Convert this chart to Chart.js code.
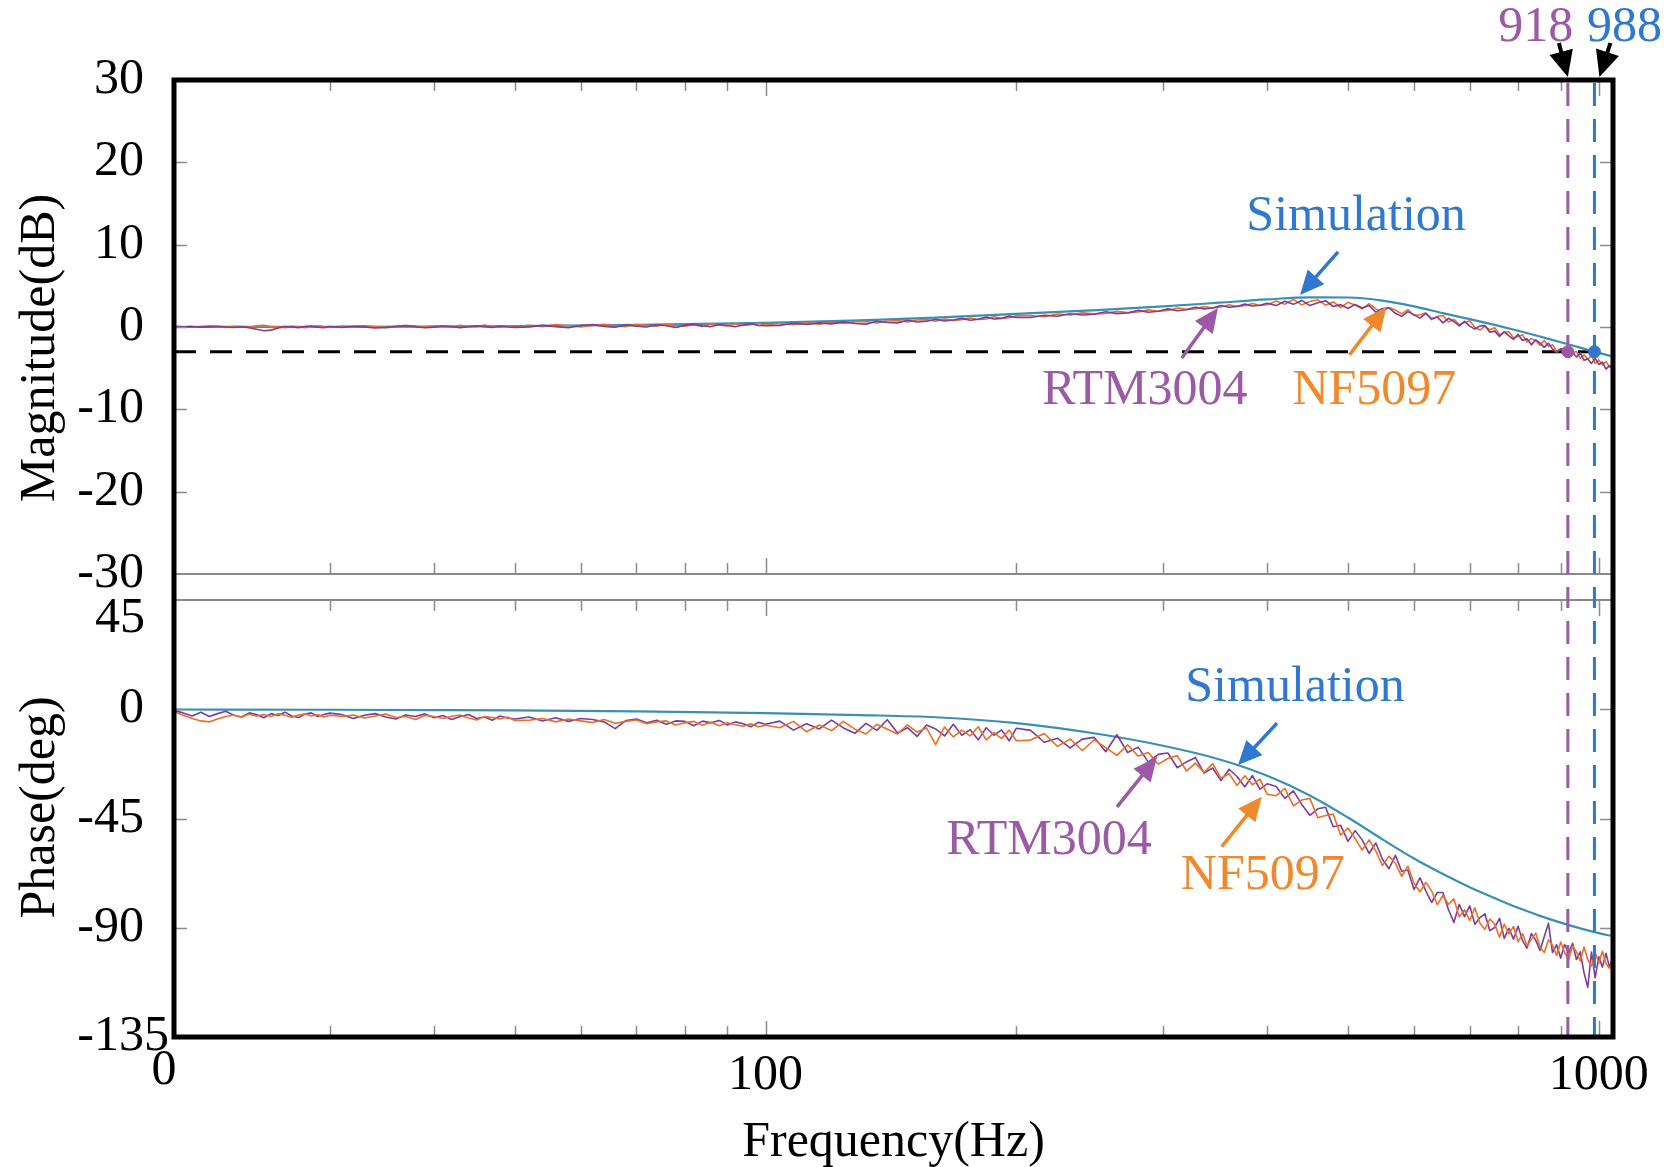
<!DOCTYPE html>
<html lang="en">
<head>
<meta charset="utf-8">
<title>Closed-loop frequency response: RTM3004 / NF5097 / Simulation</title>
<script src="https://cdn.jsdelivr.net/npm/chart.js@4.4.1/dist/chart.umd.min.js"></script>
<style>
  html, body { margin: 0; padding: 0; background: #ffffff; }
  #figure { position: relative; width: 1680px; height: 1167px; background: #ffffff; overflow: hidden; }
  .panel { position: absolute; left: 0; width: 1680px; }
  #magPanel { top: 0; height: 590px; }
  #phasePanel { top: 590px; height: 577px; }
</style>
</head>
<body>
<div id="figure">
  <div class="panel" id="magPanel"><canvas id="magChart"></canvas></div>
  <div class="panel" id="phasePanel"><canvas id="phaseChart"></canvas></div>
</div>
<script>
// ---------------- measured sweep: shared frequency grid (Hz) ----------------
const freqHz = [
  19.5, 20, 20.5, 21, 21.5, 22, 22.5, 23, 23.5, 24, 24.5, 25, 25.5, 26, 26.5, 27, 27.5, 28, 28.5, 29, 29.5, 30,
  31, 32, 33, 34, 35, 36, 37, 38, 39, 40, 41, 42, 43, 44, 45, 46, 47, 48, 49, 50,
  52, 54, 56, 58, 60, 62, 64, 66, 68, 70, 72, 74, 76, 78, 80, 82, 84, 86, 88, 90, 92, 94, 96, 98, 100,
  104, 108, 112, 116, 120, 124, 128, 132, 136, 140, 144, 148, 152, 156, 160, 164, 168, 172, 176, 180, 184, 188, 192, 196, 200,
  208, 216, 224, 232, 240, 248, 256, 264, 272, 280, 288, 296, 304, 312, 320, 328, 336, 344, 352, 360, 368, 376, 384, 392, 400,
  410, 420, 430, 440, 450, 460, 470, 480, 490, 500, 510, 520, 530, 540, 550, 560, 570, 580, 590, 600,
  610, 620, 630, 640, 650, 660, 670, 680, 690, 700, 710, 720, 730, 740, 750, 760, 770, 780, 790, 800,
  810, 820, 830, 840, 850, 860, 870, 880, 890, 900, 910, 920, 930, 940, 950, 960, 970, 980, 990, 1000,
  1010, 1020, 1030, 1040
];

// RTM3004 magnitude (dB)
const rtmMagDb = [
  0.05, 0.02, 0.07, -0.02, 0.04, 0.1, 0.0, -0.06, 0.03, -0.1, -0.28, -0.45, -0.38, -0.12, 0.05, 0.0, -0.08, 0.04, 0.12, -0.02, -0.1, 0.06,
  -0.05, 0.1, 0.02, -0.12, -0.06, 0.08, 0.15, 0.04, -0.1, -0.02, 0.12, 0.06, -0.08, 0.03, 0.16, 0.05, -0.07, 0.1, 0.0, -0.04,
  0.02, 0.2, 0.05, -0.1, 0.18, 0.3, 0.08, -0.02, 0.25, 0.1, 0.0, 0.28, 0.15, -0.05, 0.2, 0.35, 0.12, 0.05, 0.3, 0.18, 0.02, 0.25, 0.4, 0.2, 0.15,
  0.2, 0.45, 0.3, 0.5, 0.38, 0.6, 0.42, 0.35, 0.7, 0.55, 0.5, 0.82, 0.6, 0.7, 0.95, 0.72, 0.85, 1.05, 0.82, 0.95, 1.2, 0.98, 1.05, 1.32, 1.15,
  1.15, 1.42, 1.3, 1.6, 1.45, 1.55, 1.85, 1.62, 1.7, 2.02, 1.8, 1.92, 2.2, 1.98, 2.1, 2.4, 2.2, 2.3, 2.62, 2.4, 2.5, 2.78, 2.55, 2.65, 2.88,
  2.6, 3.12, 2.75, 3.23, 2.6, 2.95, 3.2, 2.49, 2.72, 2.25, 2.75, 2.3, 2.6, 1.8, 2.25, 2.33, 1.66, 1.29, 1.87, 1.5,
  1.08, 1.66, 0.99, 1.22, 0.5, 1.06, 0.67, 0.13, 0.69, 0.1, -0.26, 0.13, 0.17, -0.64, -0.5, -1.14, -0.58, -1.07, -1.51, -0.9,
  -1.64, -1.43, -2.17, -1.56, -1.95, -2.48, -1.96, -2.69, -3.12, -2.65, -2.94, -3.53, -3.02, -3.66, -3.15, -4.04, -3.88, -4.42, -3.81, -4.55,
  -4.28, -5.11, -4.69, -5.3
];

// NF5097 magnitude (dB)
const nfMagDb = [
  0.08, 0.04, -0.03, 0.06, 0.12, 0.02, -0.05, 0.1, 0.05, -0.04, 0.14, 0.2, 0.06, -0.02, -0.08, 0.08, 0.03, -0.1, 0.02, 0.16, 0.05, -0.06,
  0.12, 0.05, 0.18, 0.03, -0.08, 0.02, 0.22, 0.1, 0.0, 0.14, 0.06, -0.06, 0.2, 0.08, 0.02, 0.25, 0.1, -0.02, 0.15, 0.04,
  0.22, 0.05, 0.3, 0.15, 0.02, 0.2, 0.32, 0.12, 0.05, 0.3, 0.22, 0.08, 0.35, 0.18, 0.1, 0.26, 0.05, 0.38, 0.22, 0.12, 0.4, 0.18, 0.28, 0.45, 0.25,
  0.42, 0.28, 0.5, 0.35, 0.58, 0.42, 0.62, 0.66, 0.48, 0.72, 0.78, 0.6, 0.85, 0.9, 0.7, 0.98, 0.8, 0.88, 1.1, 0.92, 0.98, 1.25, 1.05, 1.12, 1.35,
  1.4, 1.25, 1.58, 1.45, 1.72, 1.6, 1.65, 1.9, 1.75, 1.82, 2.08, 1.92, 2.0, 2.3, 2.15, 2.2, 2.5, 2.3, 2.42, 2.7, 2.5, 2.58, 2.85, 2.62, 2.7,
  3.15, 2.77, 3.35, 2.68, 3.1, 3.3, 2.65, 3.04, 2.37, 3.0, 2.65, 2.2, 2.85, 2.2, 1.85, 2.38, 2.06, 1.59, 2.12, 1.4,
  1.48, 1.71, 0.89, 1.27, 1.4, 0.61, 0.92, 0.28, 0.54, 0.75, -0.06, -0.37, 0.12, -0.34, -0.1, -0.94, -0.63, -0.57, -1.31, -1.15,
  -0.94, -1.83, -1.42, -1.66, -2.2, -1.63, -2.36, -2.14, -2.97, -2.65, -2.59, -3.28, -3.17, -2.96, -3.8, -3.39, -3.88, -3.52, -4.41, -4.0,
  -4.58, -4.21, -4.84, -4.65
];

// RTM3004 phase (deg)
const rtmPhaseDeg = [
  -0.5, -1.5, -2.8, -1.2, -3.0, -1.8, -0.8, -2.5, -3.2, -1.5, -2.2, -3.5, -1.8, -2.6, -1.2, -2.8, -3.4, -2.0, -1.5, -3.0, -2.2, -1.6,
  -2.2, -3.8, -2.5, -1.8, -3.2, -4.0, -2.4, -3.0, -1.9, -3.5, -2.6, -4.2, -3.0, -2.2, -3.8, -3.2, -4.5, -2.8, -3.6, -4.0,
  -3.2, -4.8, -3.5, -5.0, -3.8, -4.2, -5.2, -8.0, -4.6, -4.0, -5.6, -4.5, -6.2, -4.8, -5.0, -6.8, -4.9, -5.6, -4.6, -6.5, -5.2, -6.0, -7.2, -5.4, -6.2,
  -4.9, -8.6, -6.0, -8.1, -4.5, -7.7, -9.9, -5.8, -8.7, -4.3, -9.8, -7.6, -11.2, -6.5, -8.1, -11.0, -6.2, -10.7, -8.4, -12.6, -7.6, -10.7, -8.5, -13.0, -7.8,
  -8.7, -13.6, -11.9, -15.9, -12.3, -11.6, -17.5, -10.5, -17.8, -15.6, -21.8, -18.6, -18.0, -24.1, -21.7, -19.9, -26.3, -24.2, -29.4, -24.7, -27.7, -32.0, -27.3, -32.9, -30.7,
  -31.8, -36.7, -33.6, -39.2, -43.7, -41.0, -40.4, -48.4, -47.8, -54.4, -50.0, -53.8, -59.4, -55.1, -61.8, -65.7, -60.2, -66.7, -66.2, -74.3,
  -69.4, -74.8, -79.6, -75.5, -75.5, -82.5, -87.8, -80.3, -85.4, -81.0, -88.6, -85.8, -84.3, -91.2, -89.9, -86.1, -94.4, -90.2, -94.7, -89.4,
  -95.3, -98.4, -92.4, -95.1, -99.4, -93.7, -88.2, -100.2, -97.0, -102.5, -96.9, -100.5, -96.4, -103.1, -99.9, -108.6, -114.5, -100.0, -110.6, -101.9,
  -106.2, -100.5, -106.3, -102.1
];

// NF5097 phase (deg)
const nfPhaseDeg = [
  -1.0, -2.5, -3.8, -4.8, -5.2, -4.0, -3.0, -2.4, -3.3, -2.0, -2.8, -2.2, -3.0, -1.8, -2.5, -3.3, -2.4, -1.9, -2.8, -2.2, -3.2, -2.5,
  -3.0, -2.4, -3.6, -2.8, -2.0, -3.4, -3.0, -4.2, -2.6, -3.0, -3.8, -2.9, -2.4, -3.6, -4.4, -3.0, -3.4, -4.0, -3.2, -4.6,
  -4.5, -3.8, -5.2, -4.0, -4.8, -5.5, -4.2, -5.8, -5.0, -4.4, -6.0, -5.2, -4.8, -6.5, -5.6, -5.0, -6.6, -5.4, -6.8, -5.6, -6.4, -7.0, -6.0, -7.2, -6.6,
  -7.6, -5.0, -9.3, -6.5, -8.8, -5.0, -8.2, -10.2, -6.2, -8.2, -10.2, -6.4, -9.4, -7.7, -14.6, -7.3, -11.4, -8.6, -11.0, -7.2, -12.6, -9.6, -12.1, -8.6, -13.0,
  -12.7, -10.0, -15.3, -12.3, -17.0, -12.6, -15.8, -19.0, -14.6, -19.3, -17.8, -22.6, -20.3, -19.1, -25.5, -22.2, -26.1, -22.4, -28.4, -26.6, -31.4, -27.4, -31.1, -28.8, -35.0,
  -35.6, -32.6, -39.8, -37.4, -36.7, -44.7, -43.8, -43.2, -51.9, -48.9, -53.3, -58.0, -53.8, -58.4, -64.4, -60.5, -63.4, -68.8, -64.6, -71.7,
  -75.2, -71.3, -74.8, -80.5, -76.7, -80.4, -78.1, -85.5, -82.6, -87.0, -81.8, -88.1, -90.7, -86.4, -88.5, -93.9, -88.5, -92.5, -89.5, -95.8,
  -92.4, -97.4, -94.8, -92.2, -98.0, -100.2, -95.0, -97.1, -101.4, -95.9, -100.3, -103.1, -97.5, -99.9, -103.7, -97.9, -103.1, -105.8, -100.1, -104.6,
  -99.7, -104.8, -106.7, -102.4
];

// ---------------- simulated response ----------------
const simFreqHz   = [19.5, 30, 40, 50, 70, 100, 130, 160, 200, 250, 300, 350, 400, 450, 500, 550, 600, 650, 700, 750, 800, 850, 900, 950, 1000, 1040];
const simMagDb    = [0.0, 0.02, 0.05, 0.1, 0.25, 0.5, 0.8, 1.15, 1.6, 2.05, 2.5, 2.95, 3.35, 3.6, 3.58, 3.2, 2.5, 1.68, 0.95, 0.25, -0.45, -1.15, -1.85, -2.5, -3.15, -3.6];
const simPhaseDeg = [-0.1, -0.2, -0.35, -0.5, -0.9, -1.6, -2.4, -3.3, -5.7, -10.1, -15.05, -20.6, -27.4, -35.5, -44.6, -53.6, -61.5, -67.9, -73.3, -77.8, -81.8, -85.1, -87.9, -90.25, -92.2, -93.5];

// ---------------- -3 dB bandwidth markers ----------------
const cutoffLevelDb = -3;
const cutoffRtmHz = 918;   // measured bandwidth
const cutoffSimHz = 988;   // simulated bandwidth

// ---------------- axes ----------------
const X_MIN = 19.5, X_MAX = 1040;
const freqTickValues = [X_MIN, 100, 1000];
const freqTickLabels = ['0', '100', '1000'];
const minorFreqTicks = [30, 40, 50, 60, 70, 80, 90, 100, 200, 300, 400, 500, 600, 700, 800, 900, 1000];
const magTicks = [30, 20, 10, 0, -10, -20, -30];
const magInnerMarks = [20, 10, 0, -10, -20];
const phaseTicks = [45, 0, -45, -90, -135];
const phaseInnerMarks = [0, -45, -90];
const axisTitles = { freq: 'Frequency(Hz)', mag: 'Magnitude(dB)', phase: 'Phase(deg)' };

// ---------------- styling ----------------
const FONT = "'Liberation Serif', 'Times New Roman', Times, serif";
const BLACK = '#000000';
const TICK_GREY = '#8c8c8c';
const PURPLE_TEXT = '#9b59a6';
const ORANGE_TEXT = '#f0892c';
const BLUE_TEXT = '#2f78cf';
const RTM_LINE = '#7d3c97';
const NF_LINE = '#ec6f26';
const SIM_LINE = '#3a90b3';
const CUT_DASH = [23, 13];

Chart.defaults.font.family = FONT;
Chart.defaults.color = BLACK;

const pts = (xs, ys) => xs.map((x, i) => ({ x, y: ys[i] }));

// callouts: arrow tip in data units, tail and caption as pixel offsets from the tip
const magCallouts = [
  { text: 'Simulation', color: BLUE_TEXT,   at: [438, 3.9],  tail: [38, -43], label: [56, -78] },
  { text: 'RTM3004',    color: PURPLE_TEXT, at: [349, 2.3],  tail: [-36, 50], label: [-73, 83] },
  { text: 'NF5097',     color: ORANGE_TEXT, at: [556, 2.45], tail: [-37, 48], label: [-12, 84] }
];
const phaseCallouts = [
  { text: 'Simulation', color: BLUE_TEXT,   at: [369, -23],   tail: [39, -42], label: [57, -77] },
  { text: 'RTM3004',    color: PURPLE_TEXT, at: [295, -19.6], tail: [-40, 50], label: [-108, 84] },
  { text: 'NF5097',     color: ORANGE_TEXT, at: [394, -36],   tail: [-40, 50], label: [1, 79] }
];

// ---------------- drawing helpers ----------------
function arrow(ctx, x0, y0, x1, y1, color, head, half, width) {
  const ang = Math.atan2(y1 - y0, x1 - x0);
  const bx = x1 - head * Math.cos(ang), by = y1 - head * Math.sin(ang);
  ctx.save();
  ctx.strokeStyle = color; ctx.fillStyle = color; ctx.lineWidth = width; ctx.lineCap = 'butt';
  ctx.beginPath(); ctx.moveTo(x0, y0); ctx.lineTo(bx + Math.cos(ang), by + Math.sin(ang)); ctx.stroke();
  ctx.beginPath();
  ctx.moveTo(x1, y1);
  ctx.lineTo(bx + half * Math.sin(ang), by - half * Math.cos(ang));
  ctx.lineTo(bx - half * Math.sin(ang), by + half * Math.cos(ang));
  ctx.closePath(); ctx.fill();
  ctx.restore();
}

function drawFreqTicks(ctx, xs, yEdge, dir) {
  ctx.save();
  ctx.strokeStyle = TICK_GREY; ctx.lineWidth = 1.5;
  ctx.beginPath();
  minorFreqTicks.forEach(f => {
    const px = Math.round(xs.getPixelForValue(f)) + 0.5;
    const len = (f === 100 || f === 1000) ? 16 : 11;
    ctx.moveTo(px, yEdge); ctx.lineTo(px, yEdge + dir * len);
  });
  ctx.stroke();
  ctx.restore();
}

function drawValueTicks(ctx, ys, values, left, right) {
  ctx.save();
  ctx.strokeStyle = TICK_GREY; ctx.lineWidth = 1.5;
  ctx.beginPath();
  values.forEach(v => {
    const py = Math.round(ys.getPixelForValue(v)) + 0.5;
    ctx.moveTo(left, py); ctx.lineTo(left + 13, py);
    ctx.moveTo(right - 13, py); ctx.lineTo(right, py);
  });
  ctx.stroke();
  ctx.restore();
}

function drawCutoffs(ctx, xs, yFrom, yTo, dashOffset) {
  [[cutoffRtmHz, PURPLE_TEXT], [cutoffSimHz, BLUE_TEXT]].forEach(([f, c]) => {
    const px = xs.getPixelForValue(f);
    ctx.save();
    ctx.strokeStyle = c; ctx.lineWidth = 3;
    ctx.setLineDash(CUT_DASH); ctx.lineDashOffset = dashOffset;
    ctx.beginPath(); ctx.moveTo(px, yFrom); ctx.lineTo(px, yTo); ctx.stroke();
    ctx.restore();
  });
}

function drawCallouts(ctx, chart, notes) {
  const { x, y } = chart.scales;
  notes.forEach(n => {
    const tx = x.getPixelForValue(n.at[0]), ty = y.getPixelForValue(n.at[1]);
    arrow(ctx, tx + n.tail[0], ty + n.tail[1], tx, ty, n.color, 24, 11, 3.5);
    ctx.save();
    ctx.fillStyle = n.color; ctx.font = `50px ${FONT}`;
    ctx.textAlign = 'center'; ctx.textBaseline = 'middle';
    ctx.fillText(n.text, tx + n.label[0], ty + n.label[1]);
    ctx.restore();
  });
}

function drawFrame(ctx, path) {
  ctx.save();
  ctx.strokeStyle = BLACK; ctx.lineWidth = 5; ctx.lineJoin = 'miter'; ctx.lineCap = 'butt';
  ctx.beginPath();
  path.forEach(([px, py], i) => (i ? ctx.lineTo(px, py) : ctx.moveTo(px, py)));
  ctx.stroke();
  ctx.restore();
}

function dividerLine(ctx, a, yy) {
  ctx.save();
  ctx.strokeStyle = '#8a8a8a'; ctx.lineWidth = 2;
  ctx.beginPath(); ctx.moveTo(a.left, yy); ctx.lineTo(a.right, yy); ctx.stroke();
  ctx.restore();
}

// rotated value-axis title, centred at (cx, cy)
function sideTitle(ctx, text, cx, cy) {
  ctx.save();
  ctx.translate(cx, cy); ctx.rotate(-Math.PI / 2);
  ctx.fillStyle = BLACK; ctx.font = `50px ${FONT}`;
  ctx.textAlign = 'center'; ctx.textBaseline = 'middle';
  ctx.fillText(text, 0, 0);
  ctx.restore();
}

// ---------------- panel decorations ----------------
const magDecor = {
  id: 'magDecor',
  afterDraw(chart) {
    const { ctx, chartArea: a, scales: { x, y } } = chart;
    const H = chart.height;
    drawFreqTicks(ctx, x, a.top, 1);
    drawFreqTicks(ctx, x, a.bottom, -1);
    drawValueTicks(ctx, y, magInnerMarks, a.left, a.right);
    dividerLine(ctx, a, a.bottom);
    drawCutoffs(ctx, x, a.top + 3, H, 0);
    drawCallouts(ctx, chart, magCallouts);
    drawFrame(ctx, [[a.left, H + 5], [a.left, a.top], [a.right, a.top], [a.right, H + 5]]);
    sideTitle(ctx, axisTitles.mag, 41, (a.top + a.bottom) / 2 + 21);

    // bandwidth captions above the frame
    const xr = x.getPixelForValue(cutoffRtmHz), xs = x.getPixelForValue(cutoffSimHz);
    ctx.save();
    ctx.font = `50px ${FONT}`; ctx.textAlign = 'center'; ctx.textBaseline = 'middle';
    ctx.fillStyle = PURPLE_TEXT; ctx.fillText(String(cutoffRtmHz), xr - 32, 28);
    ctx.fillStyle = BLUE_TEXT; ctx.fillText(String(cutoffSimHz), xs + 30, 28);
    ctx.restore();
    arrow(ctx, xr - 9, 43, xr, a.top - 3, BLACK, 26, 12, 4);
    arrow(ctx, xs + 16, 43, xs + 5, a.top - 3, BLACK, 26, 12, 4);
  }
};

const phaseDecor = {
  id: 'phaseDecor',
  afterDraw(chart) {
    const { ctx, chartArea: a, scales: { x, y } } = chart;
    drawFreqTicks(ctx, x, a.top, 1);
    drawFreqTicks(ctx, x, a.bottom, -1);
    drawValueTicks(ctx, y, phaseInnerMarks, a.left, a.right);
    dividerLine(ctx, a, a.top);
    drawCutoffs(ctx, x, -2, a.bottom, 3);
    drawCallouts(ctx, chart, phaseCallouts);
    drawFrame(ctx, [[a.left, -5], [a.left, a.bottom], [a.right, a.bottom], [a.right, -5]]);
    sideTitle(ctx, axisTitles.phase, 41, (a.top + a.bottom) / 2 - 11);

    // end labels of the value axis, nudged clear of the magnitude labels,
    // and the first frequency label, set just left of the frame corner
    ctx.save();
    ctx.fillStyle = BLACK; ctx.font = `50px ${FONT}`;
    ctx.textAlign = 'right'; ctx.textBaseline = 'middle';
    ctx.fillText(String(phaseTicks[0]), a.left - 29, y.getPixelForValue(phaseTicks[0]) + 19);
    ctx.fillText(String(phaseTicks[phaseTicks.length - 1]), a.left - 5, y.getPixelForValue(phaseTicks[phaseTicks.length - 1]));
    ctx.textAlign = 'center';
    ctx.fillText(freqTickLabels[0], a.left - 10, a.bottom + 34);
    ctx.restore();
  }
};

// ---------------- shared axis pieces ----------------
function freqScale(visible) {
  return {
    type: 'logarithmic', min: X_MIN, max: X_MAX, position: 'bottom', display: visible,
    afterBuildTicks: s => { s.ticks = freqTickValues.map(v => ({ value: v })); },
    afterFit: s => { s.height = visible ? 130 : 0; s.paddingLeft = 0; s.paddingRight = 0; },
    grid: { display: false }, border: { display: false },
    ticks: {
      autoSkip: false, maxRotation: 0, minRotation: 0, padding: 1, color: BLACK,
      font: { family: FONT, size: 50 },
      callback: (v, i) => (i === 0 ? '' : freqTickLabels[i])
    },
    title: { display: true, text: axisTitles.freq, color: BLACK,
             font: { family: FONT, size: 50, lineHeight: 0.98 }, padding: { top: 0, bottom: 0 } }
  };
}

function valueScale(min, max, tickValues, hidden) {
  return {
    type: 'linear', min, max, position: 'left',
    afterBuildTicks: s => { s.ticks = tickValues.map(v => ({ value: v })); },
    afterFit: s => { s.width = 174; s.paddingTop = 0; s.paddingBottom = 0; },
    grid: { display: false }, border: { display: false },
    ticks: {
      autoSkip: false, padding: 22, color: BLACK, font: { family: FONT, size: 50 },
      callback: v => (hidden.includes(v) ? '' : String(v))
    },
    title: { display: false }
  };
}

const baseOptions = {
  responsive: true, maintainAspectRatio: false, animation: false, devicePixelRatio: 1, events: [],
  plugins: { legend: { display: false }, tooltip: { enabled: false } },
  elements: { point: { radius: 0 }, line: { borderJoinStyle: 'round', tension: 0 } }
};

// ---------------- magnitude panel ----------------
new Chart(document.getElementById('magChart'), {
  type: 'line',
  data: {
    datasets: [
      { label: 'bandwidth points',
        data: [{ x: cutoffRtmHz, y: cutoffLevelDb }, { x: cutoffSimHz, y: cutoffLevelDb }],
        showLine: false, pointRadius: 6,
        pointBackgroundColor: [PURPLE_TEXT, BLUE_TEXT], pointBorderColor: [PURPLE_TEXT, BLUE_TEXT], pointBorderWidth: 1,
        order: 0 },
      { label: 'RTM3004', data: pts(freqHz, rtmMagDb), borderColor: RTM_LINE, borderWidth: 1.6, order: 1 },
      { label: 'NF5097', data: pts(freqHz, nfMagDb), borderColor: NF_LINE, borderWidth: 1.6, order: 2 },
      { label: 'Simulation', data: pts(simFreqHz, simMagDb), borderColor: SIM_LINE, borderWidth: 2.2,
        cubicInterpolationMode: 'monotone', order: 3 },
      { label: '-3 dB', data: [{ x: X_MIN, y: cutoffLevelDb }, { x: X_MAX, y: cutoffLevelDb }],
        borderColor: BLACK, borderWidth: 3, borderDash: [22, 14], order: 4 }
    ]
  },
  options: {
    ...baseOptions,
    layout: { padding: { left: 0, right: 67, top: 80, bottom: 16 } },
    scales: {
      x: freqScale(false),
      y: valueScale(-30, 30, magTicks, [])
    }
  },
  plugins: [magDecor]
});

// ---------------- phase panel ----------------
new Chart(document.getElementById('phaseChart'), {
  type: 'line',
  data: {
    datasets: [
      { label: 'NF5097', data: pts(freqHz, nfPhaseDeg), borderColor: NF_LINE, borderWidth: 1.6, order: 1 },
      { label: 'RTM3004', data: pts(freqHz, rtmPhaseDeg), borderColor: RTM_LINE, borderWidth: 1.6, order: 2 },
      { label: 'Simulation', data: pts(simFreqHz, simPhaseDeg), borderColor: SIM_LINE, borderWidth: 2.2,
        cubicInterpolationMode: 'monotone', order: 3 }
    ]
  },
  options: {
    ...baseOptions,
    layout: { padding: { left: 0, right: 67, top: 10, bottom: 0 } },
    scales: {
      x: freqScale(true),
      y: valueScale(-135, 45, phaseTicks, [45, -135])
    }
  },
  plugins: [phaseDecor]
});
</script>
</body>
</html>
